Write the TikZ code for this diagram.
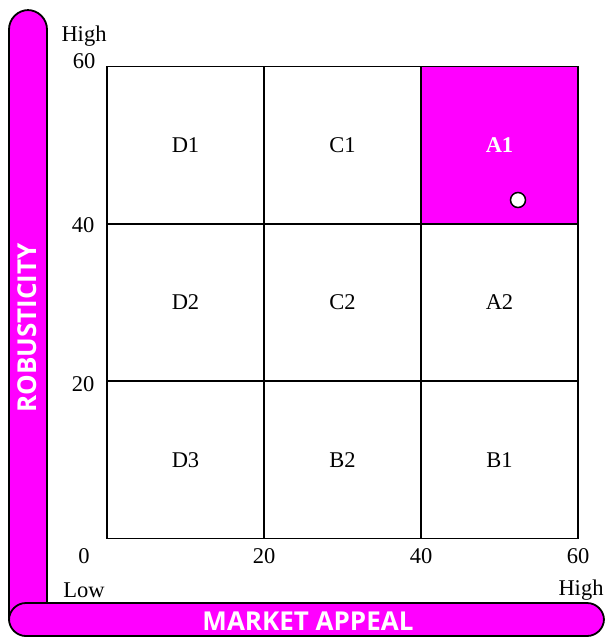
\documentclass[tikz,border=0pt]{standalone}
\usepackage{fontspec}
\setmainfont{Liberation Serif}
\newfontfamily\labelfont{Open Sans}
\definecolor{mag}{RGB}{255,0,255}
\begin{document}
\begin{tikzpicture}[x=1pt,y=-1pt,
  cell/.style={draw=black, line width=1.6pt, minimum width=157pt, minimum height=157pt, inner sep=0pt, font=\fontsize{22.5}{26}\selectfont},
  tick/.style={font=\fontsize{22.5}{26}\selectfont, inner sep=0pt},
  bar/.style={fill=mag, draw=black, line width=1.8pt},
  barlabel/.style={text=white, font=\labelfont\bfseries\fontsize{26}{30}\selectfont, inner sep=0pt},
  marker/.style={circle, draw=black, fill=white, line width=1.5pt, minimum size=15pt, inner sep=0pt}]
\useasboundingbox (0,0) rectangle (606,638);
% bars
\draw[bar, rounded corners=19.5pt] (9,10) rectangle (47,636);
\draw[bar, rounded corners=17pt] (9,603) rectangle (604,636);
\node[barlabel, rotate=90] (ylab) at (27,328) {ROBUSTICITY};
\node[barlabel] (xlab) at (308,621) {MARKET APPEAL};
% cells
\node[cell] (D1) at (185.5,145) {D1};
\node[cell] (C1) at (342.5,145) {C1};
\node[cell, fill=mag, text=white, font=\bfseries\fontsize{22.5}{26}\selectfont] (A1) at (499.5,145) {A1};
\node[cell] (D2) at (185.5,302.5) {D2};
\node[cell] (C2) at (342.5,302.5) {C2};
\node[cell] (A2) at (499.5,302.5) {A2};
\node[cell] (D3) at (185.5,460) {D3};
\node[cell] (B2) at (342.5,460) {B2};
\node[cell] (B1) at (499.5,460) {B1};
\node[marker] (pt) at (518,200) {};
% tick labels
\node[tick] (hiy) at (84,36) {High};
\node[tick] (y60) at (84,61) {60};
\node[tick] (y40) at (83,225) {40};
\node[tick] (y20) at (83,384) {20};
\node[tick] (y0) at (84,556) {0};
\node[tick] (x20) at (264,556) {20};
\node[tick] (x40) at (421,556) {40};
\node[tick] (x60) at (578,556) {60};
\node[tick] (lowx) at (84,590) {Low};
\node[tick] (hix) at (581,590) {High};
\end{tikzpicture}
\end{document}
